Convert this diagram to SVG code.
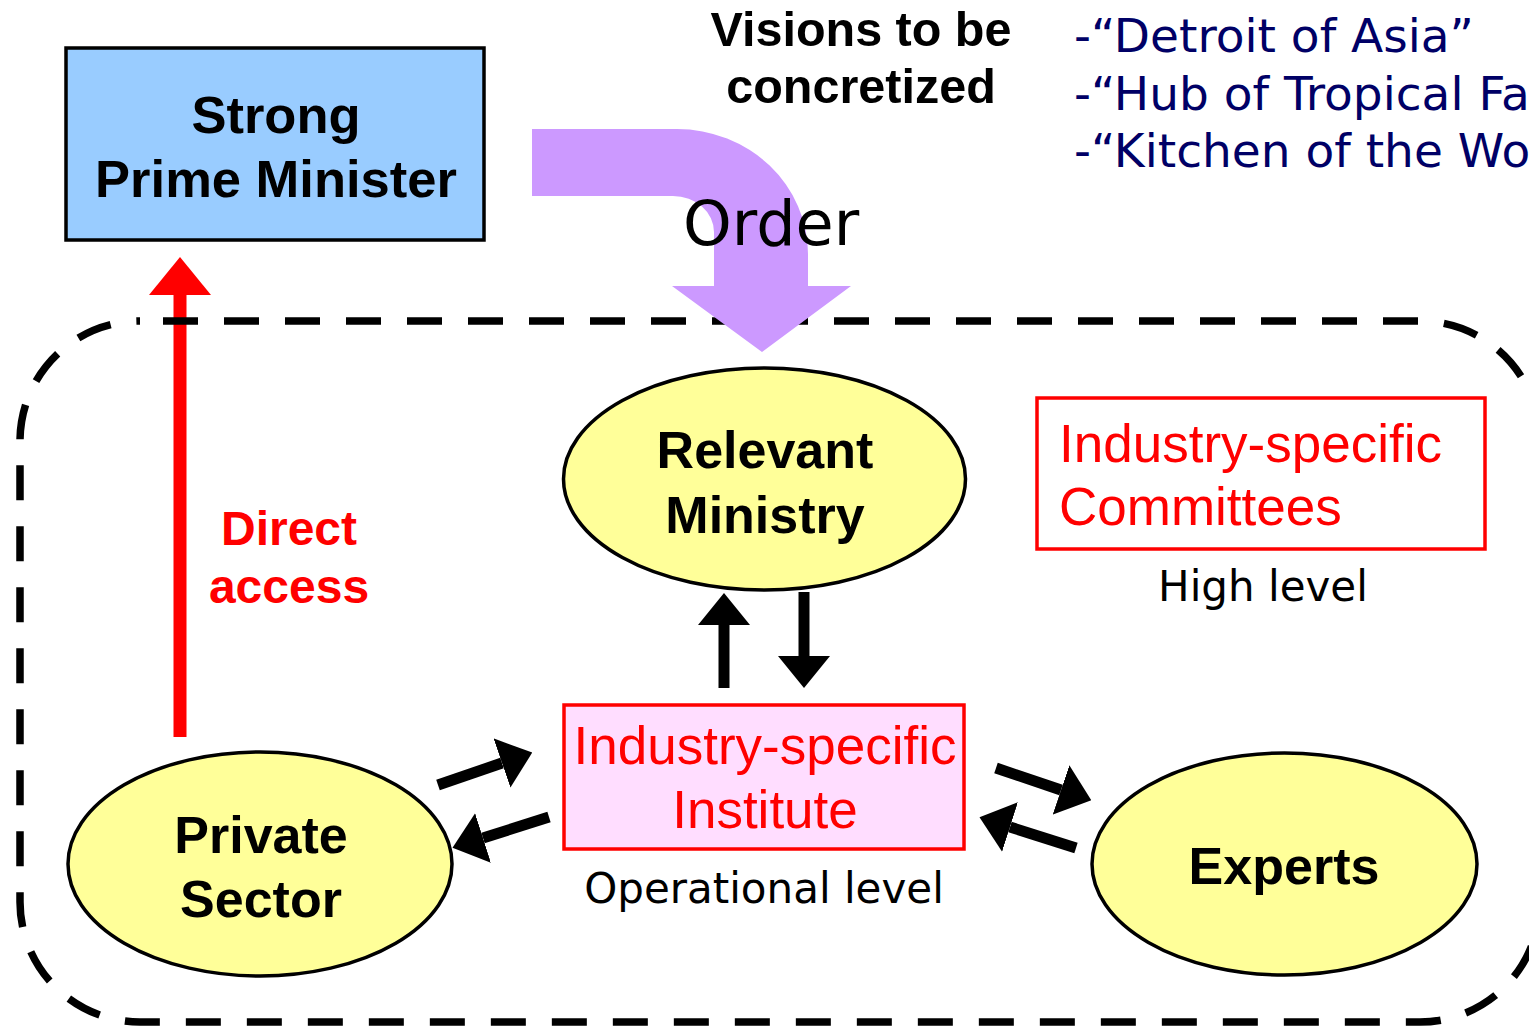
<svg xmlns="http://www.w3.org/2000/svg" width="1529" height="1027" viewBox="0 0 1529 1027">
<style>
.b{font-family:"Liberation Sans",Arial,sans-serif;font-weight:bold;font-size:52px;fill:#000;text-anchor:middle}
.r{font-family:"Liberation Sans",Arial,sans-serif;font-size:53px;fill:#FF0000}
.v{font-family:"DejaVu Sans",Verdana,sans-serif}
.ell{fill:#FFFF99;stroke:#000;stroke-width:3.5}
.blk{stroke:#000;stroke-width:11;fill:none}
</style>
<defs>
<marker id="ah" markerUnits="userSpaceOnUse" markerWidth="32" markerHeight="52" viewBox="0 0 32 52" refX="0" refY="26" orient="auto">
<path d="M0,0 L32,26 L0,52 Z" fill="#000"/>
</marker>
<marker id="rh" markerUnits="userSpaceOnUse" markerWidth="38" markerHeight="62" viewBox="0 0 38 62" refX="0" refY="31" orient="auto">
<path d="M0,0 L38,31 L0,62 Z" fill="#FF0000"/>
</marker>
</defs>

<g id="connectors">
<line id="direct-access" x1="180" y1="737" x2="180" y2="295" stroke="#FF0000" stroke-width="13" marker-end="url(#rh)"/>
<rect id="boundary" x="20" y="321" width="1520" height="701" rx="120" ry="120" fill="none" stroke="#000" stroke-width="7.5" stroke-dasharray="35 26" stroke-dashoffset="38"/>
<path id="order-arrow" d="M532,129 L677,129 A131,125 0 0 1 808,254 L808,286 L851,286 L762,352 L672,286 L714,286 L714,232 A41,36 0 0 0 673,196 L532,196 Z" fill="#CC99FF"/>
<line class="blk" x1="724" y1="688" x2="724" y2="625" marker-end="url(#ah)"/>
<line class="blk" x1="804" y1="592" x2="804" y2="656" marker-end="url(#ah)"/>
<line class="blk" x1="438" y1="785" x2="502" y2="763" marker-end="url(#ah)"/>
<line class="blk" x1="549" y1="817" x2="483" y2="838" marker-end="url(#ah)"/>
<line class="blk" x1="996" y1="768" x2="1061" y2="790" marker-end="url(#ah)"/>
<line class="blk" x1="1076" y1="848" x2="1010" y2="827" marker-end="url(#ah)"/>
</g>

<g id="labels">
<text class="v" x="683" y="245" font-size="62" fill="#000">Order</text>
<text class="b" style="font-size:48.5px" x="861" y="46">Visions to be</text>
<text class="b" style="font-size:48.5px" x="861" y="103">concretized</text>
<g class="v" font-size="47" fill="#000066">
<text x="1074" y="52">-“Detroit of Asia”</text>
<text x="1074" y="110">-“Hub of Tropical Fashion”</text>
<text x="1074" y="167">-“Kitchen of the World”</text>
</g>
<text class="b" x="289" y="545" style="fill:#FF0000;font-size:48px">Direct</text>
<text class="b" x="289" y="603" style="fill:#FF0000;font-size:48px">access</text>
<text class="v" font-size="42" x="1263" y="601" text-anchor="middle" fill="#000">High level</text>
<text class="v" font-size="42" x="764" y="903" text-anchor="middle" fill="#000">Operational level</text>
</g>

<g id="prime-minister">
<rect x="66" y="48" width="418" height="192" fill="#99CCFF" stroke="#000" stroke-width="3.5"/>
<text class="b" x="276" y="133" style="font-size:52.5px">Strong</text>
<text class="b" x="276" y="197" style="font-size:52.5px">Prime Minister</text>
</g>

<g id="relevant-ministry">
<ellipse class="ell" cx="764.5" cy="479" rx="201" ry="111"/>
<text class="b" x="765" y="468">Relevant</text>
<text class="b" x="765" y="533">Ministry</text>
</g>

<g id="committees">
<rect x="1037" y="398" width="448" height="151" fill="none" stroke="#FF0000" stroke-width="3.5"/>
<text class="r" x="1059" y="462">Industry-specific</text>
<text class="r" x="1059" y="525">Committees</text>
</g>

<g id="institute">
<rect x="564" y="705" width="400" height="144" fill="#FFDDFF" stroke="#FF0000" stroke-width="3.5"/>
<text class="r" x="765" y="764" text-anchor="middle">Industry-specific</text>
<text class="r" x="765" y="828" text-anchor="middle">Institute</text>
</g>

<g id="private-sector">
<ellipse class="ell" cx="260" cy="864" rx="192" ry="112"/>
<text class="b" x="261" y="853">Private</text>
<text class="b" x="261" y="917">Sector</text>
</g>

<g id="experts">
<ellipse class="ell" cx="1284.5" cy="864" rx="192.5" ry="111"/>
<text class="b" x="1284" y="884">Experts</text>
</g>
</svg>
